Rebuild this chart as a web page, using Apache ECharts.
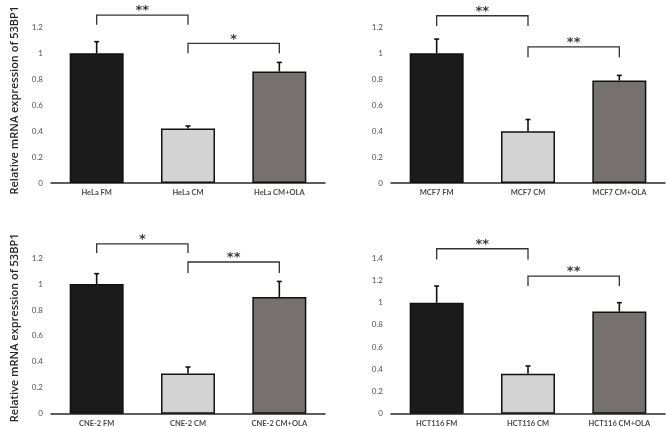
<!DOCTYPE html>
<html><head><meta charset="utf-8">
<script src="https://cdn.jsdelivr.net/npm/echarts@6/dist/echarts.min.js"></script>
<style>html,body{margin:0;padding:0;background:#fff}#c{width:666px;height:427px}</style>
</head><body><div id="c"></div>
<script>
const cats1 = ['HeLa FM', 'HeLa CM', 'HeLa CM+OLA'];
const vals1 = [1.0, 0.42, 0.86];
const err1 = [0.09, 0.02, 0.07];
const cats2 = ['MCF7 FM', 'MCF7 CM', 'MCF7 CM+OLA'];
const vals2 = [1.0, 0.40, 0.79];
const err2 = [0.11, 0.09, 0.04];
const cats3 = ['CNE-2 FM', 'CNE-2 CM', 'CNE-2 CM+OLA'];
const vals3 = [1.0, 0.31, 0.90];
const err3 = [0.08, 0.05, 0.12];
const cats4 = ['HCT116 FM', 'HCT116 CM', 'HCT116 CM+OLA'];
const vals4 = [1.0, 0.36, 0.92];
const err4 = [0.15, 0.07, 0.08];
// brackets: [fromIndex, toIndex, lineValue, dropValue, label]
const br1 = [[0, 1, 1.295, 1.22, '**'], [1, 2, 1.077, 1.0, '*']];
const br2 = [[0, 1, 1.29, 1.21, '**'], [1, 2, 1.05, 0.97, '**']];
const br3 = [[0, 1, 1.31, 1.24, '*'], [1, 2, 1.17, 1.085, '**']];
const br4 = [[0, 1, 1.486, 1.39, '**'], [1, 2, 1.24, 1.15, '**']];
const yMax = [1.2, 1.2, 1.2, 1.4];
const yTicks = ['0', '0.2', '0.4', '0.6', '0.8', '1', '1.2', '1.4'];
const yName = 'Relative mRNA expression of 53BP1';

const barColors = ['#1b1b1b', '#d3d3d3', '#767070'];
const panels = [
  {cats: cats1, vals: vals1, err: err1, br: br1},
  {cats: cats2, vals: vals2, err: err2, br: br2},
  {cats: cats3, vals: vals3, err: err3, br: br3},
  {cats: cats4, vals: vals4, err: err4, br: br4}
];
const grids = [
  {left: 51, width: 274, top: 27.4, height: 155.6, outerBoundsMode: 'none', containLabel: false},
  {left: 391, width: 274, top: 27.4, height: 155.6, outerBoundsMode: 'none', containLabel: false},
  {left: 51, width: 274, top: 258.1, height: 155.6, outerBoundsMode: 'none', containLabel: false},
  {left: 391, width: 274, top: 258.3, height: 155.4, outerBoundsMode: 'none', containLabel: false}
];
const namePad = [[0, 0, 0, 10], null, [0, 0, 0, 16], null];
const chart = echarts.init(document.getElementById('c'), null, {renderer: 'canvas'});
const xAxis = [], yAxis = [], series = [];
panels.forEach((p, k) => {
  xAxis.push({
    type: 'category', gridIndex: k, data: p.cats,
    axisLine: {lineStyle: {color: '#2a2a2a', width: 1.5}},
    axisTick: {show: false},
    axisLabel: {fontFamily: 'Lato', fontSize: 7.5, fontWeight: 'bold', color: '#4a4a4a', margin: 6}
  });
  yAxis.push({
    type: 'value', gridIndex: k, min: 0, max: yMax[k], interval: 0.2,
    axisLine: {show: false}, axisTick: {show: false}, splitLine: {show: false},
    axisLabel: {fontFamily: 'Lato', fontSize: 8, color: '#505050', margin: 8,
      formatter: v => yTicks[Math.round(v / 0.2)]},
    name: (k % 2 === 0) ? yName : '',
    nameLocation: 'middle', nameRotate: 90, nameGap: 31,
    nameTextStyle: {fontFamily: 'Open Sans', fontSize: 11, fontWeight: 600, color: '#262626',
      padding: namePad[k] || 0}
  });
  series.push({
    type: 'bar', xAxisIndex: k, yAxisIndex: k, barWidth: 54,
    data: p.vals.map((v, i) => ({value: v, itemStyle: {color: barColors[i]}})),
    itemStyle: {borderColor: '#111', borderWidth: 1.5},
    silent: true
  });
  series.push({
    type: 'custom', xAxisIndex: k, yAxisIndex: k, clip: false, silent: true,
    data: p.vals.map((v, i) => [i, v, p.err[i]]),
    renderItem: (params, api) => {
      const i = api.value(0), v = api.value(1), e = api.value(2);
      const a = api.coord([i, v]);
      const b = api.coord([i, v + e]);
      return {type: 'group', children: [
        {type: 'line', shape: {x1: a[0], y1: a[1], x2: b[0], y2: b[1]}, style: {stroke: '#111', lineWidth: 1.6}},
        {type: 'line', shape: {x1: b[0] - 2.5, y1: b[1], x2: b[0] + 2.5, y2: b[1]}, style: {stroke: '#111', lineWidth: 1.6}}
      ]};
    }
  });
  series.push({
    type: 'custom', xAxisIndex: k, yAxisIndex: k, clip: false, silent: true,
    data: p.br.map(b => [b[0], b[1], b[2], b[3]]),
    renderItem: (params, api) => {
      const b = p.br[params.dataIndex];
      const l = api.coord([b[0], b[2]]);
      const r = api.coord([b[1], b[2]]);
      const ld = api.coord([b[0], b[3]]);
      return {type: 'group', children: [
        {type: 'polyline', shape: {points: [[l[0], ld[1]], [l[0], l[1]], [r[0], l[1]], [r[0], ld[1]]]},
          style: {stroke: '#333', lineWidth: 1.3, fill: null}},
        {type: 'text', x: (l[0] + r[0]) / 2, y: l[1] - 4,
          style: {text: b[4], fill: '#3a3a3a', font: 'bold 13px "DejaVu Sans"', textAlign: 'center', textVerticalAlign: 'middle'}}
      ]};
    }
  });
});
chart.setOption({animation: false, grid: grids, xAxis, yAxis, series});
</script></body></html>
